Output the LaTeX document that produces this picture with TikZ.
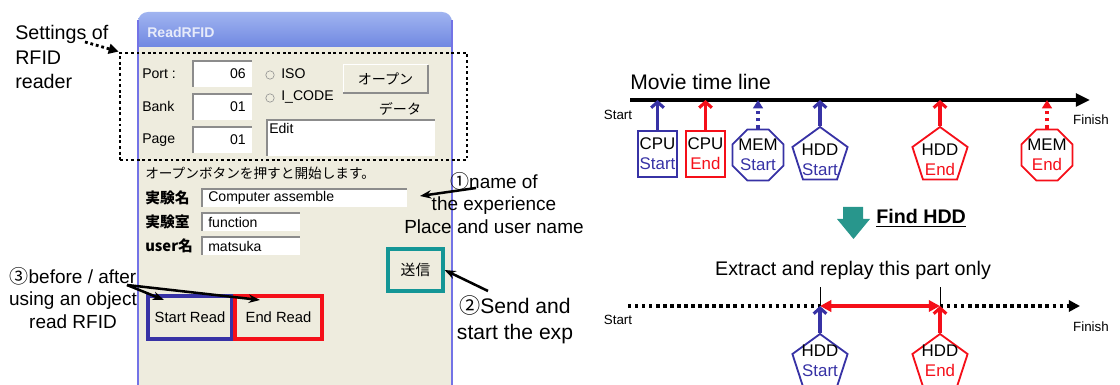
\documentclass[tikz,border=0pt]{standalone}
\usepackage{fontspec}
\setmainfont{Liberation Sans}
\newfontfamily\jp{Noto Sans CJK JP}
\usetikzlibrary{arrows.meta,shapes.geometric,positioning}

\definecolor{hddblue}{RGB}{55,50,165}
\definecolor{hddred}{RGB}{245,15,25}
\definecolor{panel}{RGB}{238,236,222}
\definecolor{frameblue}{RGB}{115,115,230}
\definecolor{titletop}{RGB}{160,180,240}
\definecolor{titlebot}{RGB}{95,120,220}
\definecolor{sendteal}{RGB}{20,150,150}
\definecolor{findteal}{RGB}{40,150,140}
\definecolor{fieldgray}{RGB}{140,140,140}

\begin{document}
\begin{tikzpicture}[x=0.025cm,y=-0.025cm,
  ui/.style={font=\fontsize{10}{12}\selectfont,inner sep=0pt},
  uijp/.style={font=\jp\fontsize{10}{12}\selectfont,inner sep=0pt},
  note/.style={font=\fontsize{13.5}{16}\selectfont,align=center,inner sep=0pt},
  endlabel/.style={font=\fontsize{9.5}{11}\selectfont,inner sep=0pt},
  marktext/.style={font=\fontsize{12}{14}\selectfont,align=center,inner sep=0pt},
  readbtn/.style={line width=2.4pt,minimum height=1.075cm,inner sep=0pt,font=\fontsize{10.5}{12}\selectfont},
  cpubox/.style={draw,line width=1.3pt,minimum width=0.975cm,minimum height=1.15cm,inner sep=0pt,font=\fontsize{12}{14}\selectfont,align=center},
  memshape/.style={draw,line width=1.3pt,regular polygon,regular polygon sides=8,minimum size=1.38cm,inner sep=0pt},
  hddshape/.style={draw,line width=1.3pt,regular polygon,regular polygon sides=5,minimum size=1.45cm,inner sep=0pt},
  markarrow/.style={line width=2.2pt,-{Straight Barb[length=4pt,width=9pt]}},
  dotarrow/.style={line width=2.2pt,dash pattern=on 2.2pt off 3pt,-{Triangle[length=6pt,width=7pt]}},
  callout/.style={line width=1.8pt,-{Stealth[length=8pt,width=6pt]}},
  dotline/.style={line width=2.4pt,dash pattern=on 2.4pt off 2.6pt},
]
\useasboundingbox (0,0) rectangle (1120,385);
\clip (0,0) rectangle (1120,385);

% dialog window
\shade[top color=titletop,bottom color=titlebot,rounded corners=7pt] (138,12) rectangle (452,60);
\fill[panel] (138,47) rectangle (452,385);
\draw[frameblue,line width=1.5pt] (138,20) -- (138,385);
\draw[frameblue,line width=1.5pt] (452,20) -- (452,385);
\node[ui,anchor=west,white!85!titlebot,font=\bfseries\fontsize{10}{12}\selectfont] (title) at (147,32) {ReadRFID};

% reader settings
\node[ui,anchor=west] (portlbl) at (142,74) {Port :};
\node[ui,anchor=west] (banklbl) at (142,106) {Bank};
\node[ui,anchor=west] (pagelbl) at (142,140) {Page};
\foreach \top/\val [count=\i] in {61/06,94/01,127/01} {
  \fill[white] (193,\top) rectangle (252,\top+26);
  \draw[fieldgray,line width=1pt] (193,\top+26) |- (252,\top);
  \node[ui,anchor=east] (val\i) at (246,\top+13) {\val};
}
\draw[fieldgray] (270,75) circle (3pt);
\draw[fieldgray] (270,98) circle (3pt);
\node[ui,anchor=west] (isolbl) at (281,74) {ISO};
\node[ui,anchor=west] (icodelbl) at (281,97) {I\_CODE};
\node[uijp,fill=panel,minimum width=2.1cm,minimum height=0.7cm] (openbtn) at (385.5,79) {オープン};
\draw[white,line width=1pt] (openbtn.south west) |- (openbtn.north east);
\draw[fieldgray,line width=1.2pt] (openbtn.south west) -| (openbtn.north east);
\node[uijp] (datalbl) at (400,109) {データ};
\fill[white] (267,120) rectangle (435,156);
\draw[fieldgray,line width=1pt] (267,156) |- (435,120);
\node[ui,anchor=north west] (editlbl) at (269,123) {Edit};

% experiment fields
\node[uijp,anchor=west,font=\jp\fontsize{9.7}{12}\selectfont] (hint) at (145,173) {オープンボタンを押すと開始します。};
\foreach \yy/\lbl/\txt/\xr [count=\i] in {198/実験名/Computer assemble/407,222/実験室/function/300,246/user名/matsuka/300} {
  \node[uijp,anchor=west,font=\jp\bfseries\fontsize{10.5}{12}\selectfont] (row\i) at (145,\yy) {\lbl};
  \fill[white] (202,\yy-9) rectangle (\xr,\yy+9);
  \draw[fieldgray,line width=1pt] (202,\yy+9) |- (\xr,\yy-9);
  \node[ui,anchor=west] (entry\i) at (208,\yy) {\txt};
}
\node[draw=sendteal,line width=2.2pt,fill=panel,minimum width=1.375cm,minimum height=1.05cm,inner sep=0pt,font=\jp\fontsize{10.5}{12}\selectfont] (send) at (415.5,270) {送信};
\node[readbtn,draw=hddblue,minimum width=2.1cm] (startread) at (190,317.5) {Start Read};
\node[readbtn,draw=hddred,line width=3pt,minimum width=2.175cm] (endread) at (278.5,317.5) {End Read};

% dotted frame round the reader settings
\node[draw,line width=2pt,dash pattern=on 2pt off 2pt,minimum width=8.675cm,minimum height=2.675cm,inner sep=0pt] (rfidframe) at (293.5,106.5) {};

% notes
\node[note,align=left,anchor=west,font=\fontsize{14}{17.5}\selectfont] (settings) at (15,57) {Settings of\\RFID\\reader};
\coordinate (setfrom) at (85,42);
\draw[line width=2pt,dash pattern=on 2pt off 2pt,-{Triangle[length=7pt,width=7pt]}] (setfrom) -- (rfidframe.north west);

\node[note] (namenote) at (494,203) {{\jp ①}name of\\the experience\\Place and user name};
\coordinate (namefrom) at (476,188);
\coordinate (nameto) at (420,196);
\draw[callout] (namefrom) -- (nameto);

\node[note,font=\fontsize{15}{18.5}\selectfont] (sendnote) at (515,320) {{\jp ②}Send and\\start the exp};
\coordinate (sendfrom) at (488,291);
\draw[callout] (sendfrom) -- (send.east);

\node[note] (readnote) at (73,298) {{\jp ③}before / after\\using an object\\read RFID};
\coordinate (readfrom) at (127,285);
\coordinate (startto) at (164,300);
\coordinate (endto) at (260,300);
\draw[callout] (readfrom) -- (startto);
\draw[callout] (readfrom) -- (endto);

% movie time line
\node[anchor=west,inner sep=0pt,font=\fontsize{15}{18}\selectfont] (movietitle) at (630,82) {Movie time line};
\coordinate (tlstart) at (630,100);
\coordinate (tlend) at (1090,100);
\draw[line width=3pt,-{Triangle[length=10pt,width=9pt]}] (tlstart) -- (tlend);
\node[endlabel] (startlbl) at (618,115) {Start};
\node[endlabel] (finishlbl) at (1091,120) {Finish};

\node[cpubox,draw=hddblue] (cpustart) at (657.5,154) {CPU\\\textcolor{hddblue}{Start}};
\node[cpubox,draw=hddred] (cpuend) at (705.5,154) {CPU\\\textcolor{hddred}{End}};
\node[memshape,draw=hddblue] (memstart) at (758,155) {};
\node[marktext] (memstarttxt) at (memstart) {MEM\\\textcolor{hddblue}{Start}};
\node[hddshape,draw=hddblue] (hddstart) at (820,156) {};
\node[marktext] (hddstarttxt) at (820,160) {HDD\\\textcolor{hddblue}{Start}};
\node[hddshape,draw=hddred] (hddend) at (940,156) {};
\node[marktext] (hddendtxt) at (940,160) {HDD\\\textcolor{hddred}{End}};
\node[memshape,draw=hddred] (memend) at (1047,155) {};
\node[marktext] (memendtxt) at (memend) {MEM\\\textcolor{hddred}{End}};

\draw[markarrow,hddblue] (cpustart.north) -- (cpustart.north |- tlstart);
\draw[markarrow,hddred] (cpuend.north) -- (cpuend.north |- tlstart);
\draw[dotarrow,hddblue] (memstart.north) -- (memstart.north |- tlstart);
\draw[markarrow,hddblue] (hddstart.north) -- (hddstart.north |- tlstart);
\draw[markarrow,hddred] (hddend.north) -- (hddend.north |- tlstart);
\draw[dotarrow,hddred] (memend.north) -- (memend.north |- tlstart);

% find step
\fill[findteal] (843,207) -- (863,207) -- (863,219) -- (870,219) -- (853.5,239) -- (837,219) -- (843,219) -- cycle;
\node[anchor=west,inner sep=0pt,font=\bfseries\fontsize{14}{17}\selectfont] (findhdd) at (876,218) {\underline{Find HDD}};
\node[inner sep=0pt,font=\fontsize{14}{17}\selectfont] (extract) at (853,270) {Extract and replay this part only};

% extracted part
\coordinate (btstart) at (628,306);
\coordinate (bta) at (820,306);
\coordinate (btb) at (940,306);
\coordinate (btend) at (1080,306);
\draw[dotline] (btstart) -- (bta);
\draw[dotline,-{Triangle[length=8pt,width=8pt]}] (btb) -- (btend);
\draw[hddred,line width=2.5pt,{Triangle[length=8pt,width=8pt]}-{Triangle[length=8pt,width=8pt]}] (bta) -- (btb);
\draw[thin] (bta) -- ++(0,-19);
\draw[thin] (btb) -- ++(0,-19);
\node[endlabel] (startlbl2) at (618,320) {Start};
\node[endlabel] (finishlbl2) at (1091,327) {Finish};

\node[hddshape,draw=hddblue] (hddstart2) at (820,363) {};
\node[marktext] (hddstart2txt) at (820,361) {HDD\\\textcolor{hddblue}{Start}};
\node[hddshape,draw=hddred] (hddend2) at (940,363) {};
\node[marktext] (hddend2txt) at (940,361) {HDD\\\textcolor{hddred}{End}};
\draw[markarrow,hddblue] (hddstart2.north) -- (bta);
\draw[markarrow,hddred] (hddend2.north) -- (btb);
\end{tikzpicture}
\end{document}
